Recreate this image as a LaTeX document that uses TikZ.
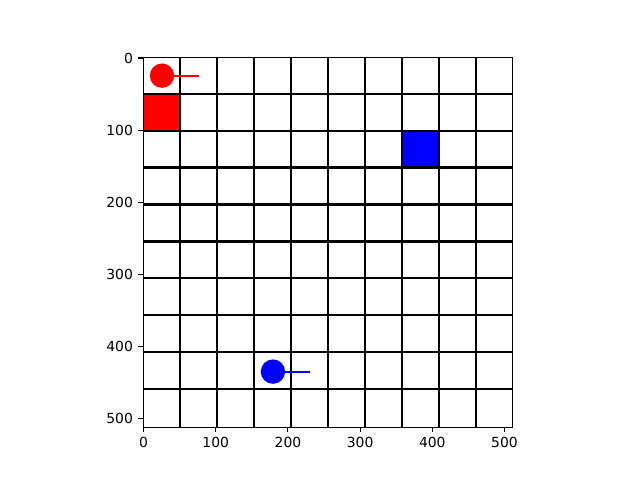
\documentclass[tikz,border=0pt]{standalone}
\usepackage{fontspec}
\setmainfont{DejaVu Sans}
\definecolor{mred}{RGB}{255,0,0}
\definecolor{mblue}{RGB}{0,0,255}
\begin{document}
\begin{tikzpicture}[x=0.54140625pt,y=-0.54140625pt,
  gridline/.style={black,line width=1.6pt},
  spine/.style={black,line width=0.83pt},
  tickmark/.style={black,line width=0.83pt},
  ticklab/.style={inner sep=0pt,font=\fontsize{10.42}{12}\selectfont},
  xlab/.style={ticklab,anchor=north,yshift=-3.65pt},
  ylab/.style={ticklab,anchor=east,xshift=-3.65pt},
  agent/.style={circle,inner sep=0pt,minimum size=18.3pt,fill=#1},
  heading/.style={line width=1.4pt,#1}]
\useasboundingbox (-198.87,-80.29) rectangle (687.7,584.64);
% goal squares
\fill[mred] (-0.5,{51.2-1.8}) rectangle ({51.2-0.8},{102.4-1.8});
\fill[mblue] ({51.2*7-0.8},{102.4-1.8}) rectangle ({51.2*8-0.8},{51.2*3-1.8});
% grid
\foreach \k in {1,...,9}{
  \draw[gridline] ({51.2*\k-0.8},-0.5) -- ({51.2*\k-0.8},511.5);
  \draw[gridline] (-0.5,{51.2*\k-1.8}) -- (511.5,{51.2*\k-1.8});
}
% agents
\coordinate (rh) at (76.8,24.5);
\coordinate (bh) at (230.4,434.5);
\node[agent=mred] (ra) at (25.6,24.5) {};
\node[agent=mblue] (ba) at (179.2,434.5) {};
\draw[heading=mred] (ra.center) -- (rh);
\draw[heading=mblue] (ba.center) -- (bh);
% axes
\draw[spine] (-0.5,-0.5) rectangle (511.5,511.5);
\foreach \v in {0,100,200,300,400,500}{
  \draw[tickmark] (\v,511.5) -- ++(0pt,-3.65pt) node[xlab] (xl\v) {\v};
  \draw[tickmark] (-0.5,\v) -- ++(-3.65pt,0pt) node[ylab] (yl\v) {\v};
}
\end{tikzpicture}
\end{document}
